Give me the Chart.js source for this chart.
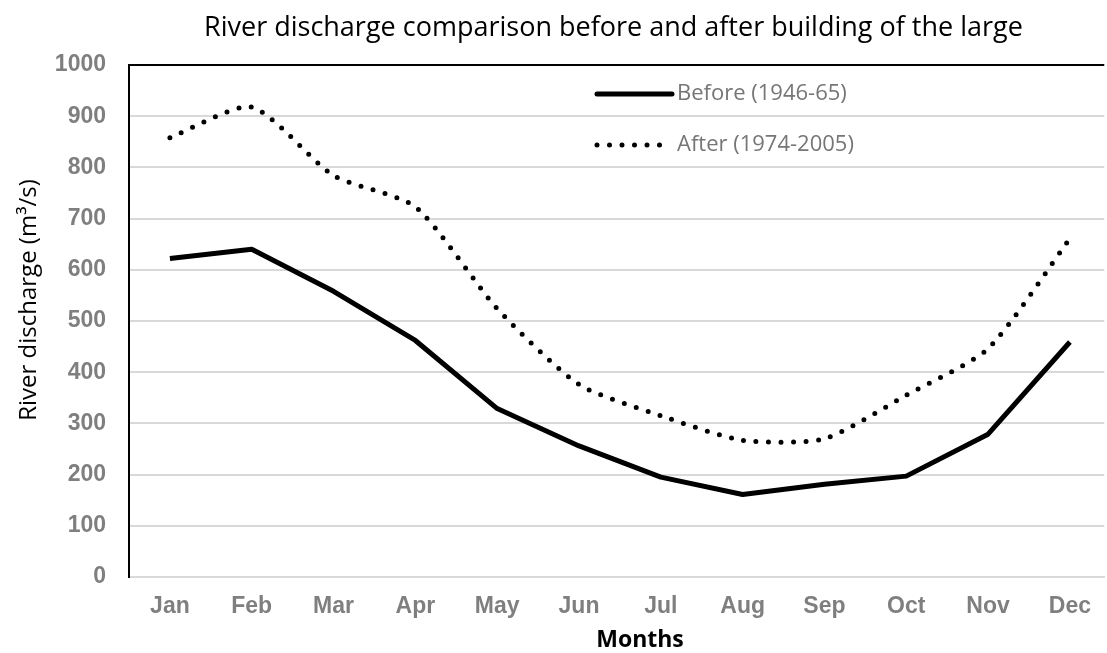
<!DOCTYPE html>
<html>
<head>
<meta charset="utf-8">
<script src="https://cdn.jsdelivr.net/npm/chart.js@4/dist/chart.umd.min.js"></script>
<style>
  html, body { margin: 0; padding: 0; background: #fff; }
  #wrap { width: 1107px; height: 653px; position: relative; }
</style>
</head>
<body>
<div id="wrap"><canvas id="chartDischarge"></canvas></div>
<script>
// ====== DATA ======
const months = ['Jan', 'Feb', 'Mar', 'Apr', 'May', 'Jun', 'Jul', 'Aug', 'Sep', 'Oct', 'Nov', 'Dec'];
const before = [622, 640, 558, 462, 329, 256, 195, 161, 181, 197, 279, 459];
const after  = [858, 918, 784, 723, 524, 376, 315, 267, 270, 355, 446, 661];
const yTicks = [0, 100, 200, 300, 400, 500, 600, 700, 800, 900, 1000];

const GRID = '#d9d9d9';
const TICK_GRAY = '#7f7f7f';
const TEXT_FONT = '"Open Sans", sans-serif';

// titles and legend drawn by hand (the original is a cropped Excel chart,
// so these sit off-centre)
const annotations = {
    id: 'annotations',
    afterDraw(chart) {
        const ctx = chart.ctx;
        ctx.save();

        // chart title
        ctx.fillStyle = '#000';
        ctx.font = '27px ' + TEXT_FONT;
        ctx.textAlign = 'left';
        ctx.textBaseline = 'alphabetic';
        ctx.fillText('River discharge comparison before and after building of the large', 204, 36);

        // x axis title
        ctx.font = 'bold 23px ' + TEXT_FONT;
        ctx.textAlign = 'center';
        ctx.fillText('Months', 640, 647);

        // y axis title
        ctx.save();
        ctx.translate(29, 300);
        ctx.rotate(-Math.PI / 2);
        ctx.font = '24px ' + TEXT_FONT;
        ctx.textBaseline = 'middle';
        ctx.fillText('River discharge (m³/s)', 0, 0);
        ctx.restore();

        // legend
        const x0 = 597, x1 = 672;
        ctx.font = '22px ' + TEXT_FONT;
        ctx.fillStyle = '#767676';
        ctx.textAlign = 'left';
        ctx.textBaseline = 'middle';
        ctx.strokeStyle = '#000';
        ctx.lineWidth = 5;
        ctx.lineCap = 'round';
        ctx.beginPath();
        ctx.moveTo(x0, 94);
        ctx.lineTo(x1, 94);
        ctx.stroke();
        ctx.fillText('Before (1946-65)', 677, 94);

        ctx.setLineDash([0, 12.5]);
        ctx.beginPath();
        ctx.moveTo(x0, 145);
        ctx.lineTo(x1 - 5, 145);
        ctx.stroke();
        ctx.setLineDash([]);
        ctx.fillText('After (1974-2005)', 677, 145);
        ctx.restore();
    }
};

new Chart(document.getElementById('chartDischarge'), {
    type: 'line',
    data: {
        datasets: [{
            label: 'Before (1946-65)',
            data: before.map((v, i) => ({ x: i, y: v })),
            borderColor: '#000',
            borderWidth: 5,
            borderJoinStyle: 'round',
            pointRadius: 0,
            tension: 0,
        }, {
            label: 'After (1974-2005)',
            data: after.map((v, i) => ({ x: i, y: v })),
            borderColor: '#000',
            borderWidth: 5,
            borderDash: [0, 12.5],
            borderCapStyle: 'round',
            pointRadius: 0,
            tension: 0.22,
        }]
    },
    options: {
        responsive: true,
        maintainAspectRatio: false,
        animation: false,
        layout: { padding: { top: 65 } },
        plugins: {
            legend: { display: false },
            tooltip: { enabled: false },
            title: { display: false }
        },
        scales: {
            x: {
                type: 'linear',
                min: -0.5,
                max: 11.42,
                afterFit: s => { s.height = 76; },
                afterBuildTicks: s => { s.ticks = months.map((m, i) => ({ value: i })); },
                ticks: {
                    callback: v => months[v],
                    color: TICK_GRAY,
                    padding: 16,
                    maxRotation: 0,
                    autoSkip: false,
                    font: { family: '"Liberation Sans", Arial, sans-serif', size: 23, weight: 'bold' }
                },
                grid: { display: false, drawTicks: false },
                border: { color: GRID, width: 2 }
            },
            y: {
                min: 0,
                max: 1000,
                afterFit: s => { s.width = 129; },
                afterBuildTicks: s => { s.ticks = yTicks.map(v => ({ value: v })); },
                ticks: {
                    callback: v => String(v),
                    color: TICK_GRAY,
                    padding: 23,
                    font: { family: '"Liberation Sans", Arial, sans-serif', size: 23, weight: 'bold' }
                },
                grid: {
                    drawTicks: false,
                    lineWidth: 2,
                    color: c => (c.tick && c.tick.value === 1000 ? '#000' : GRID)
                },
                border: { color: '#000', width: 2 }
            }
        }
    },
    plugins: [annotations]
});
</script>
</body>
</html>
